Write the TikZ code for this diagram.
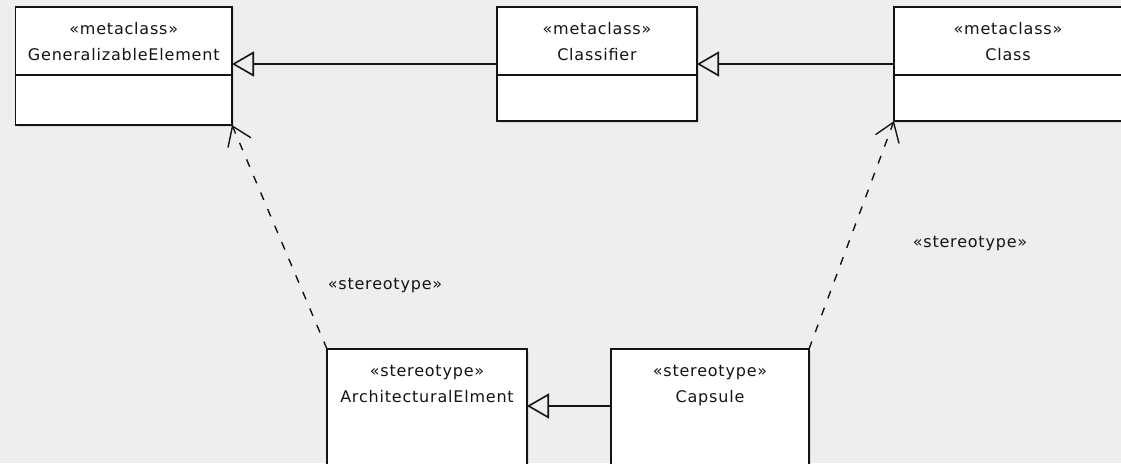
\documentclass[tikz,border=0pt]{standalone}
\usepackage{fontspec}
\newfontfamily\umlfont[LetterSpace=5]{DejaVu Sans}
\usetikzlibrary{arrows.meta,shadows}
\definecolor{canvasgray}{RGB}{238,238,238}
\definecolor{inkgray}{RGB}{20,20,20}
\tikzset{
  classbox/.style={draw=inkgray, fill=white, line width=1.6pt, inner sep=0pt, outer sep=0pt,
    drop shadow={shadow xshift=2pt, shadow yshift=-2pt, opacity=.2}},
  umltext/.style={font=\umlfont\fontsize{16}{19}\selectfont, anchor=base, inner sep=0pt, text=inkgray},
  divider/.style={draw=inkgray, line width=1.6pt},
  generalize/.style={draw=inkgray, line width=1.6pt,
    -{Triangle[open, length=22pt, width=25pt, line width=1.6pt]}},
  depend/.style={draw=inkgray, line width=1.4pt, dash pattern=on 8pt off 10pt,
    -{Straight Barb[length=18pt, width=25pt, line width=1.4pt]}},
}
\begin{document}
\begin{tikzpicture}[x=1pt, y=-1pt]
\useasboundingbox[fill=canvasgray] (0,0) rectangle (1121,463);

% metaclasses
\node[classbox, minimum width=216.5pt, minimum height=118pt] (genelem) at (123.75,66) {};
\node[classbox, minimum width=200pt, minimum height=114pt] (classifier) at (597,64) {};
\node[classbox, minimum width=228pt, minimum height=114pt] (class) at (1008,64) {};

\draw[divider] ([yshift=-68pt]genelem.north west) -- ([yshift=-68pt]genelem.north east);
\draw[divider] ([yshift=-68pt]classifier.north west) -- ([yshift=-68pt]classifier.north east);
\draw[divider] ([yshift=-68pt]class.north west) -- ([yshift=-68pt]class.north east);

\node[umltext] (genelemS) at ([yshift=-27pt]genelem.north) {«metaclass»};
\node[umltext] (genelemN) at ([yshift=-53pt]genelem.north) {GeneralizableElement};
\node[umltext] (classifierS) at ([yshift=-27pt]classifier.north) {«metaclass»};
\node[umltext] (classifierN) at ([yshift=-53pt]classifier.north) {Classifier};
\node[umltext] (classS) at ([yshift=-27pt]class.north) {«metaclass»};
\node[umltext] (classN) at ([yshift=-53pt]class.north) {Class};

% stereotypes
\node[classbox, minimum width=200pt, minimum height=130pt] (archelem) at (427,414) {};
\node[classbox, minimum width=198pt, minimum height=130pt] (capsule) at (710,414) {};

\node[umltext] (archelemS) at ([yshift=-27pt]archelem.north) {«stereotype»};
\node[umltext] (archelemN) at ([yshift=-53pt]archelem.north) {ArchitecturalElment};
\node[umltext] (capsuleS) at ([yshift=-27pt]capsule.north) {«stereotype»};
\node[umltext] (capsuleN) at ([yshift=-53pt]capsule.north) {Capsule};

% generalizations
\draw[generalize] (classifier.west) -- (classifier.west -| genelem.east);
\draw[generalize] (class.west) -- (class.west -| classifier.east);
\draw[generalize] ([yshift=8pt]capsule.west) -- ([yshift=8pt]capsule.west -| archelem.east);

% extensions
\draw[depend] (archelem.north west) -- (genelem.south east);
\draw[depend] (capsule.north east) -- (class.south west);
\node[umltext] (depleft) at (385,289) {«stereotype»};
\node[umltext] (depright) at (970,247) {«stereotype»};
\end{tikzpicture}
\end{document}
